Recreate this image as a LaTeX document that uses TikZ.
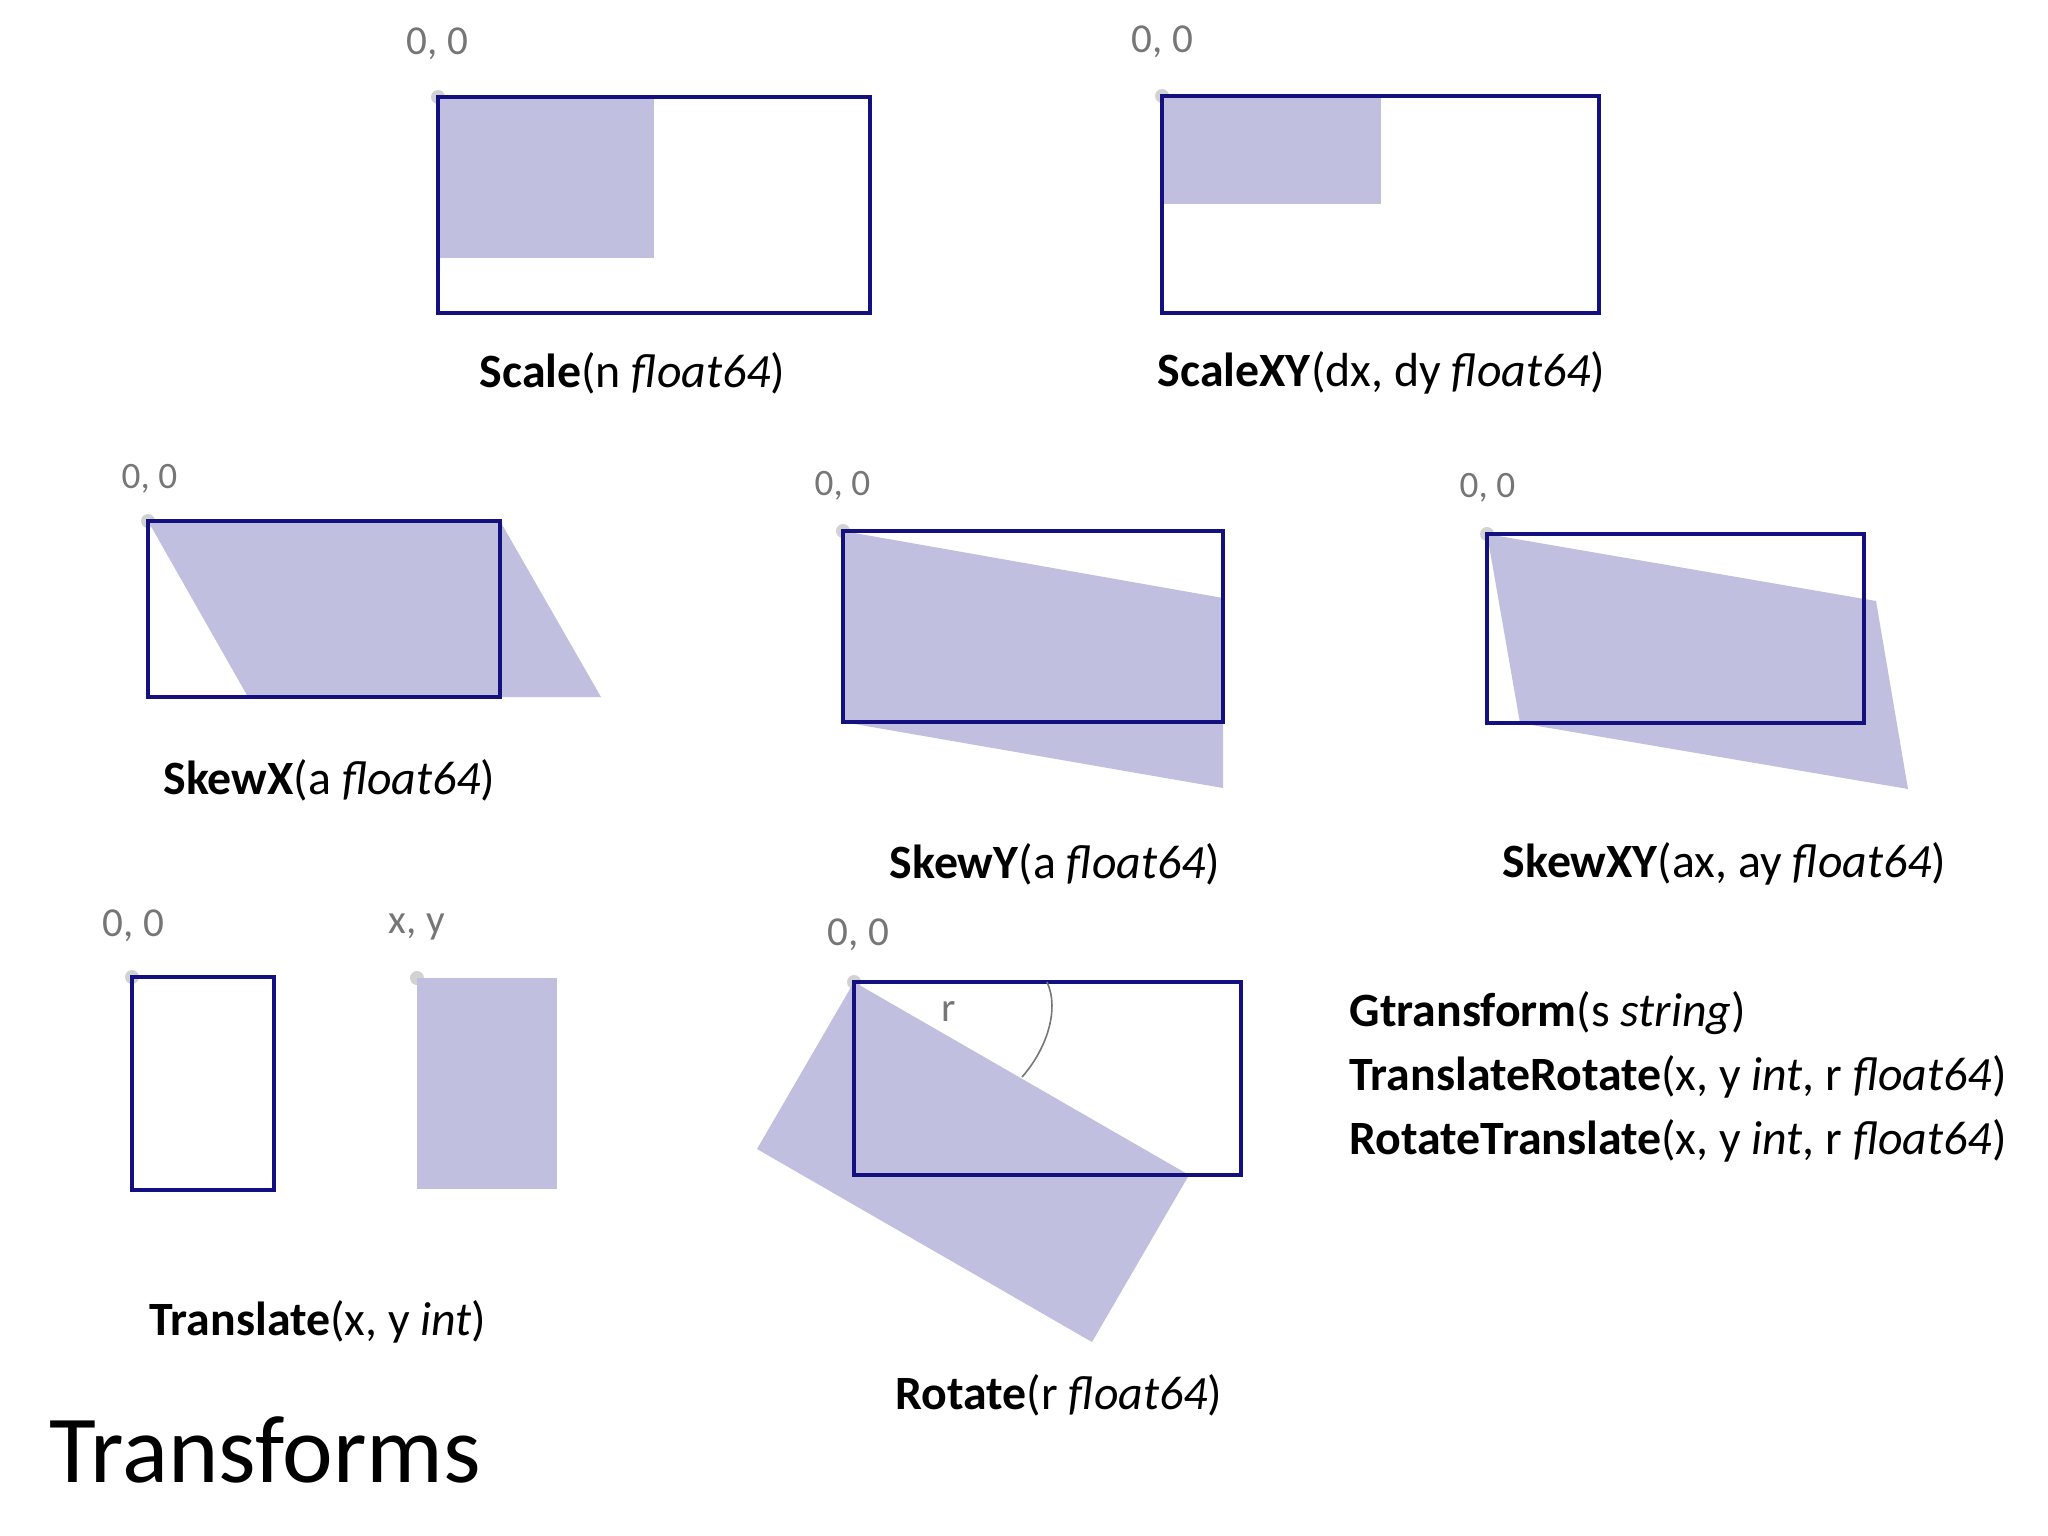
\documentclass[tikz,border=0pt]{standalone}
\usepackage{fontspec}
\setmainfont{Carlito}
\usepackage{tikz}
\usetikzlibrary{positioning}
\definecolor{FrameNavy}{RGB}{20,16,128}
\definecolor{SoftLilac}{RGB}{192,191,223}
\definecolor{LabelGray}{RGB}{118,118,118}
\definecolor{DotGray}{RGB}{210,210,210}
\tikzset{
  frame/.style={draw=FrameNavy,line width=0.95pt},
  moved/.style={fill=SoftLilac},
  corner/.style={fill=DotGray},
  origin/.style={text=LabelGray,anchor=west,inner sep=0pt,
    font=\fontsize{11.7}{14}\selectfont},
  small origin/.style={origin,font=\fontsize{10.6}{13}\selectfont},
  call/.style={anchor=west,inner sep=0pt,font=\fontsize{13.6}{16}\selectfont},
  title/.style={anchor=west,inner sep=0pt,font=\fontsize{27.3}{31}\selectfont}
}

\begin{document}
\begin{tikzpicture}[x=0.01cm,y=-0.01cm]
      \useasboundingbox[fill=white] (0,0) rectangle (2048,1536);
      % Scale
      \fill[corner] (438,97) circle (7);
      \fill[moved] (438,97) rectangle (654,258);
      \draw[frame] (438,97) rectangle (870,313);
      \node[origin] (o-scale) at (406,44) {0, 0};
      \node[call] (scale) at (479,373) {\textbf{Scale}(n \textit{float64})};
      % ScaleXY
      \fill[corner] (1162,96) circle (7);
      \fill[moved] (1162,96) rectangle (1381,204);
      \draw[frame] (1162,96) rectangle (1599,313);
      \node[origin] (o-scalexy) at (1131,42) {0, 0};
      \node[call] (scalexy) at (1157,373) {\textbf{ScaleXY}(dx, dy \textit{float64})};
      % SkewX
      \fill[corner] (148,521) circle (7);
      \fill[moved] (148,521) -- (500,521) -- (601,697) -- (248,697) -- cycle;
      \draw[frame] (148,521) rectangle (500,697);
      \node[small origin] (o-skewx) at (121,479) {0, 0};
      \node[call] (skewx) at (163,780) {\textbf{SkewX}(a \textit{float64})};
      % SkewY
      \fill[corner] (843,531) circle (7);
      \fill[moved] (843,531) -- (1223,598) -- (1223,788) -- (843,722) -- cycle;
      \draw[frame] (843,531) rectangle (1223,722);
      \node[small origin] (o-skewy) at (814,486) {0, 0};
      \node[call] (skewy) at (889,864) {\textbf{SkewY}(a \textit{float64})};
      % SkewXY
      \fill[corner] (1487,534) circle (7);
      \fill[moved] (1487,534) -- (1876,601) -- (1908,789) -- (1520,723) -- cycle;
      \draw[frame] (1487,534) rectangle (1864,723);
      \node[small origin] (o-skewxy) at (1459,488) {0, 0};
      \node[call] (skewxy) at (1502,864) {\textbf{SkewXY}(ax, ay \textit{float64})};
      % Translate
      \fill[corner] (132,977) circle (7);
      \fill[corner] (417,978) circle (7);
      \draw[frame] (132,977) rectangle (274,1190);
      \fill[moved] (417,978) rectangle (557,1189);
      \node[origin] (o-translate) at (102,926) {0, 0};
      \node[origin] (xy) at (388,927) {x, y};
      \node[call] (translate) at (149,1322) {\textbf{Translate}(x, y \textit{int})};
      % Rotate
      \fill[corner] (854,982) circle (7);
      \fill[moved] (854,982) -- (1189,1175) -- (1092,1342) -- (757,1149) -- cycle;
      \draw[frame] (854,982) rectangle (1241,1175);
      \draw[LabelGray,line width=0.45pt] (1047,982) .. controls (1060,1010) and (1046,1050) .. (1022,1077);
      \node[origin] (o-rotate) at (827,935) {0, 0};
      \node[origin,anchor=center] (angle) at (949,1011) {r};
      \node[call] (rotate) at (895,1395) {\textbf{Rotate}(r \textit{float64})};
      % combined calls
      \node[call] (gtransform) at (1349,1013) {\textbf{Gtransform}(s \textit{string})};
      \node[call] (transrot) at (1349,1077) {\textbf{TranslateRotate}(x, y \textit{int}, r \textit{float64})};
      \node[call] (rottrans) at (1349,1141) {\textbf{RotateTranslate}(x, y \textit{int}, r \textit{float64})};
      \node[title] (heading) at (49,1450) {Transforms};
    \end{tikzpicture}
\end{document}
